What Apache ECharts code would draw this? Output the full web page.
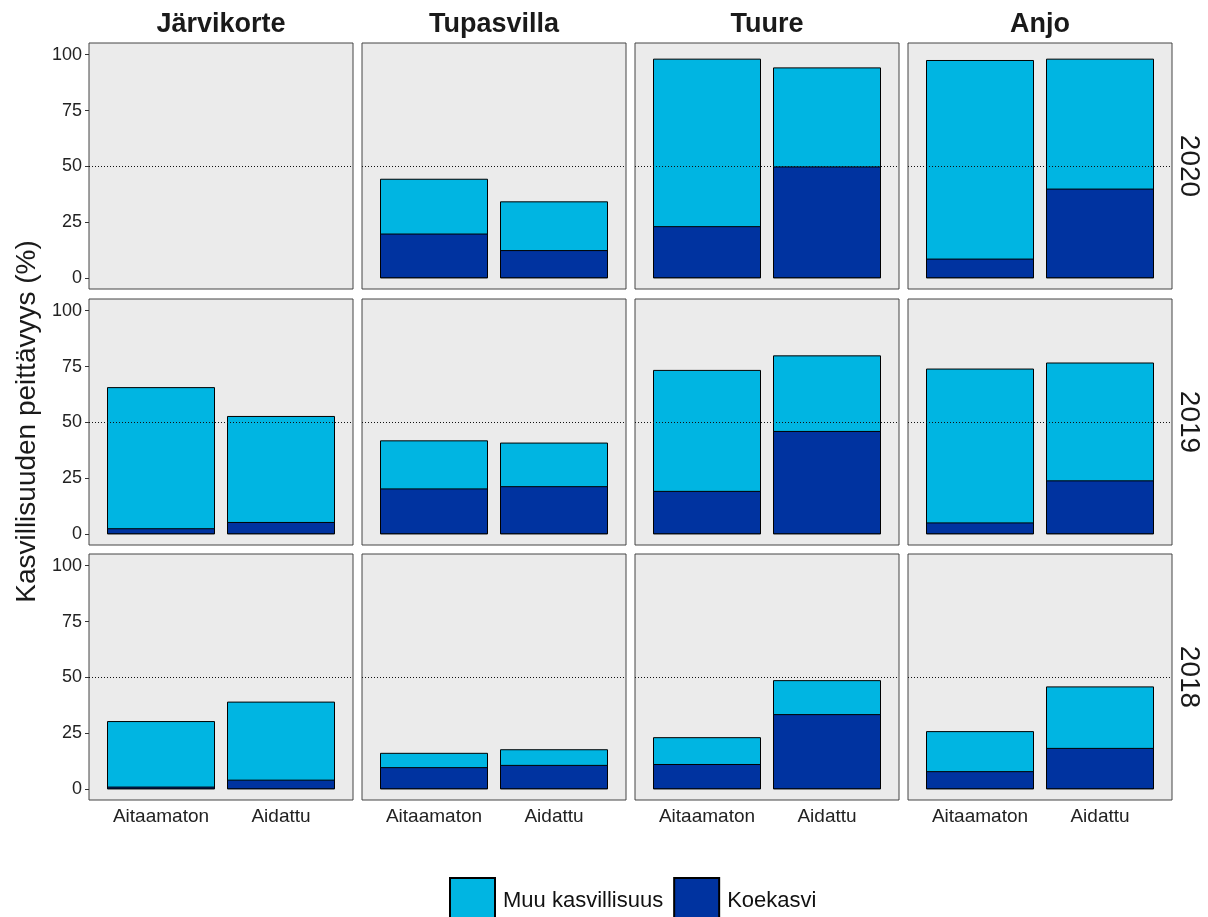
<!DOCTYPE html>
<html>
<head>
<meta charset="utf-8">
<title>Kasvillisuuden peittävyys</title>
<script src="https://cdn.jsdelivr.net/npm/echarts@6/dist/echarts.min.js"></script>
<style>
  html, body { margin: 0; padding: 0; background: #ffffff; }
  #chart { width: 1208px; height: 917px; }
</style>
</head>
<body>
<div id="chart"></div>
<script>
// Facet columns (sites), facet rows (years) and x categories (treatments)
const sites = ['Järvikorte', 'Tupasvilla', 'Tuure', 'Anjo'];
const years = ['2020', '2019', '2018'];
const treatments = ['Aitaamaton', 'Aidattu'];
const yTicks = [0, 25, 50, 75, 100];
const referenceLevel = 50;

// Koekasvi cover (%) per site as [Aitaamaton, Aidattu]
const koekasvi2020 = [[null, null], [20.0, 12.6], [23.3, 50.0], [8.8, 40.1]];
const koekasvi2019 = [[2.7, 5.5], [20.5, 21.5], [19.4, 46.2], [5.3, 24.1]];
const koekasvi2018 = [[1.2, 4.3], [9.9, 10.9], [11.3, 33.6], [8.1, 18.5]];

// Total vegetation cover (%) = Koekasvi + Muu kasvillisuus, per site as [Aitaamaton, Aidattu]
const kokonais2020 = [[null, null], [44.5, 34.4], [98.2, 94.3], [97.6, 98.2]];
const kokonais2019 = [[65.8, 52.9], [42.0, 41.0], [73.5, 80.0], [74.1, 76.8]];
const kokonais2018 = [[30.5, 39.2], [16.3, 17.9], [23.3, 48.8], [26.0, 46.0]];

const koekasviByYear = { '2020': koekasvi2020, '2019': koekasvi2019, '2018': koekasvi2018 };
const kokonaisByYear = { '2020': kokonais2020, '2019': kokonais2019, '2018': kokonais2018 };

// Layout and styling
const FONT = '"Liberation Sans", Arial, Helvetica, sans-serif';
const PANEL_LEFT = 89, PANEL_STEP_X = 273, PANEL_W = 264;
const PANEL_TOP = 43, PANEL_STEP_Y = 255.5, PANEL_H = 246;
const X_MIN = 0.4, X_MAX = 2.6;            // discrete scale padding around the two bars
const BAR_WIDTH = Math.round(PANEL_W * 0.9 / (X_MAX - X_MIN));
const COLOR_MUU = '#00B5E2';
const COLOR_KOE = '#0033A0';
const TEXT_DARK = '#1a1a1a';

const grids = [], xAxes = [], yAxes = [], series = [], graphics = [];

years.forEach((year, r) => {
  const top = Math.round(PANEL_TOP + r * PANEL_STEP_Y);
  sites.forEach((site, c) => {
    const left = Math.round(PANEL_LEFT + c * PANEL_STEP_X);
    const k = grids.length;
    grids.push({
      left: left, top: top, width: PANEL_W, height: PANEL_H,
      show: true, backgroundColor: '#EBEBEB',
      borderColor: '#444444', borderWidth: 1, containLabel: false
    });
    xAxes.push({
      type: 'value', gridIndex: k, min: X_MIN, max: X_MAX,
      splitLine: { show: false }, axisLine: { show: false }, axisTick: { show: false },
      axisLabel: {
        show: r === years.length - 1,
        customValues: [1, 2],
        formatter: v => treatments[Math.round(v) - 1] || '',
        fontFamily: FONT, fontSize: 19, color: '#222222', margin: 7
      }
    });
    yAxes.push({
      type: 'value', gridIndex: k, min: -4.8, max: 105.2,
      splitLine: { show: false }, axisLine: { show: false },
      axisTick: {
        show: c === 0, customValues: yTicks, length: 4,
        lineStyle: { color: '#333333', width: 1 }
      },
      axisLabel: {
        show: c === 0, customValues: yTicks,
        fontFamily: FONT, fontSize: 18, color: '#222222', margin: 7
      }
    });

    const koe = koekasviByYear[year][c];
    const total = kokonaisByYear[year][c];
    const common = {
      type: 'bar', xAxisIndex: k, yAxisIndex: k,
      barWidth: BAR_WIDTH, barGap: '-100%', silent: true, animation: false
    };
    // Whole bar up to total cover; the upper part shows Muu kasvillisuus
    series.push(Object.assign({}, common, {
      name: 'Muu kasvillisuus', z: 2,
      data: treatments.map((t, i) => [i + 1, total[i]]),
      itemStyle: { color: COLOR_MUU, borderColor: '#000000', borderWidth: 1 }
    }));
    // Koekasvi share drawn over the base of the bar
    series.push(Object.assign({}, common, {
      name: 'Koekasvi', z: 3,
      data: treatments.map((t, i) => [i + 1, koe[i]]),
      itemStyle: { color: COLOR_KOE, borderColor: '#000000', borderWidth: 1 },
      markLine: {
        silent: true, symbol: 'none', animation: false, z: 4,
        label: { show: false },
        lineStyle: { type: [1, 2], color: '#111111', width: 1 },
        emphasis: { disabled: true },
        data: [{ yAxis: referenceLevel }]
      }
    }));

    // Site titles over the first row
    if (r === 0) {
      graphics.push({
        type: 'text', x: left + PANEL_W / 2, y: 25,
        style: {
          text: site, font: 'bold 27px ' + FONT, fill: TEXT_DARK,
          align: 'center', verticalAlign: 'middle'
        }
      });
    }
  });

  // Year label on the right of each row
  graphics.push({
    type: 'text', x: 1189, y: top + PANEL_H / 2, rotation: -Math.PI / 2,
    style: {
      text: year, font: '28px ' + FONT, fill: TEXT_DARK,
      align: 'center', verticalAlign: 'middle'
    }
  });
});

// Shared y-axis title
graphics.push({
  type: 'text', x: 27,
  y: (PANEL_TOP + Math.round(PANEL_TOP + 2 * PANEL_STEP_Y) + PANEL_H) / 2,
  rotation: Math.PI / 2,
  style: {
    text: 'Kasvillisuuden peittävyys (%)', font: '28px ' + FONT, fill: TEXT_DARK,
    align: 'center', verticalAlign: 'middle'
  }
});

const chart = echarts.init(document.getElementById('chart'), null, { renderer: 'canvas' });
chart.setOption({
  animation: false,
  backgroundColor: '#ffffff',
  textStyle: { fontFamily: FONT },
  grid: grids,
  xAxis: xAxes,
  yAxis: yAxes,
  series: series,
  legend: {
    data: ['Muu kasvillisuus', 'Koekasvi'],
    left: 449, top: 877, padding: 0,
    itemWidth: 45, itemHeight: 45, itemGap: 10,
    icon: 'rect', selectedMode: false,
    textStyle: { fontFamily: FONT, fontSize: 22, color: '#111111', padding: [0, 0, 0, 3] }
  },
  graphic: graphics
});
</script>
</body>
</html>
